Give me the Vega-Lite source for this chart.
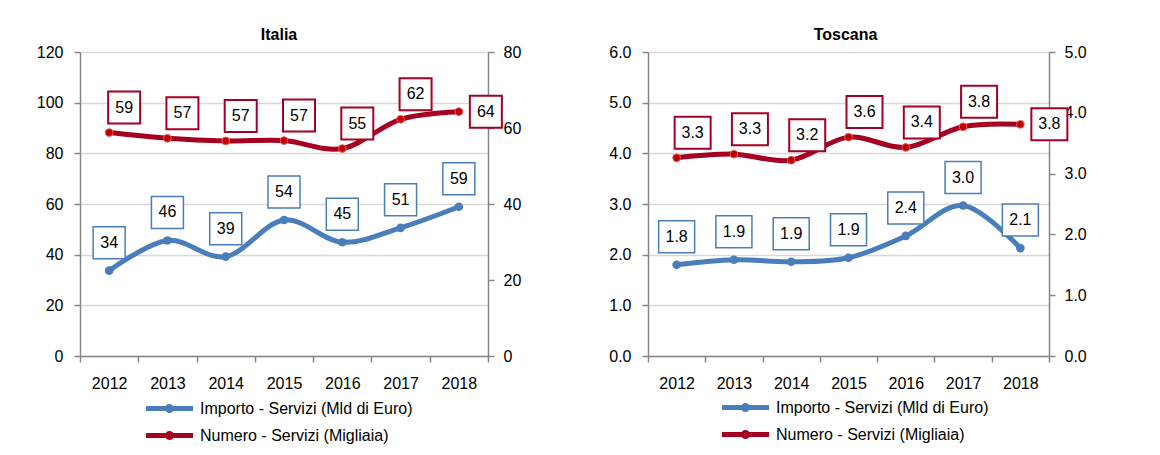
{
  "$schema": "https://vega.github.io/schema/vega-lite/v6.json",
  "padding": {"left": 36, "top": 27, "right": 5, "bottom": 5},
  "spacing": 87,
  "datasets": {
    "italia": [
      {"anno": "2012", "serie": "Importo - Servizi (Mld di Euro)", "valore": 33.7},
      {"anno": "2013", "serie": "Importo - Servizi (Mld di Euro)", "valore": 45.6},
      {"anno": "2014", "serie": "Importo - Servizi (Mld di Euro)", "valore": 39.2},
      {"anno": "2015", "serie": "Importo - Servizi (Mld di Euro)", "valore": 53.7},
      {"anno": "2016", "serie": "Importo - Servizi (Mld di Euro)", "valore": 44.9},
      {"anno": "2017", "serie": "Importo - Servizi (Mld di Euro)", "valore": 50.6},
      {"anno": "2018", "serie": "Importo - Servizi (Mld di Euro)", "valore": 58.9},
      {"anno": "2012", "serie": "Numero - Servizi (Migliaia)", "valore": 58.8},
      {"anno": "2013", "serie": "Numero - Servizi (Migliaia)", "valore": 57.3},
      {"anno": "2014", "serie": "Numero - Servizi (Migliaia)", "valore": 56.6},
      {"anno": "2015", "serie": "Numero - Servizi (Migliaia)", "valore": 56.7},
      {"anno": "2016", "serie": "Numero - Servizi (Migliaia)", "valore": 54.6},
      {"anno": "2017", "serie": "Numero - Servizi (Migliaia)", "valore": 62.3},
      {"anno": "2018", "serie": "Numero - Servizi (Migliaia)", "valore": 64.3}
    ],
    "toscana": [
      {"anno": "2012", "serie": "Importo - Servizi (Mld di Euro)", "valore": 1.80},
      {"anno": "2013", "serie": "Importo - Servizi (Mld di Euro)", "valore": 1.90},
      {"anno": "2014", "serie": "Importo - Servizi (Mld di Euro)", "valore": 1.86},
      {"anno": "2015", "serie": "Importo - Servizi (Mld di Euro)", "valore": 1.94},
      {"anno": "2016", "serie": "Importo - Servizi (Mld di Euro)", "valore": 2.37},
      {"anno": "2017", "serie": "Importo - Servizi (Mld di Euro)", "valore": 2.97},
      {"anno": "2018", "serie": "Importo - Servizi (Mld di Euro)", "valore": 2.13},
      {"anno": "2012", "serie": "Numero - Servizi (Migliaia)", "valore": 3.26},
      {"anno": "2013", "serie": "Numero - Servizi (Migliaia)", "valore": 3.32},
      {"anno": "2014", "serie": "Numero - Servizi (Migliaia)", "valore": 3.22},
      {"anno": "2015", "serie": "Numero - Servizi (Migliaia)", "valore": 3.60},
      {"anno": "2016", "serie": "Numero - Servizi (Migliaia)", "valore": 3.43},
      {"anno": "2017", "serie": "Numero - Servizi (Migliaia)", "valore": 3.77},
      {"anno": "2018", "serie": "Numero - Servizi (Migliaia)", "valore": 3.81}
    ]
  },
  "hconcat": [
    {
      "width": 408,
      "height": 304,
      "title": {"text": "Italia", "dx": -5},
      "data": {"name": "italia"},
      "encoding": {
        "x": {"field": "anno", "type": "ordinal", "scale": {"paddingInner": 0, "paddingOuter": 0},
              "axis": {"title": null, "labelAngle": 0, "tickBand": "extent", "labelPadding": 13, "grid": false}}
      },
      "layer": [
        {
          "transform": [{"filter": {"field": "serie", "equal": "Importo - Servizi (Mld di Euro)"}}],
          "encoding": {
            "y": {"field": "valore", "type": "quantitative", "scale": {"domain": [0, 120], "nice": false, "zero": true},
                  "axis": {"title": null, "orient": "left", "values": [0, 20, 40, 60, 80, 100, 120], "grid": true, "labelPadding": 11}}
          },
          "layer": [
            {"mark": {"type": "line", "interpolate": "cardinal", "strokeWidth": 5},
             "encoding": {"color": {"field": "serie", "type": "nominal",
               "scale": {"domain": ["Importo - Servizi (Mld di Euro)", "Numero - Servizi (Migliaia)"], "range": ["#4A7EBB", "#A50021"]},
               "legend": {"title": null, "orient": "none", "legendX": 77, "legendY": 344, "direction": "vertical"}}}},
            {"mark": {"type": "point", "filled": true, "size": 75, "color": "#4A7EBB", "opacity": 1}},
            {"mark": {"type": "point", "shape": "M-1,-2.75H1V-0.75H-1Z", "size": 1024, "filled": true, "fill": "white", "stroke": "#4A7EBB", "strokeWidth": 1.5, "opacity": 1}},
            {"mark": {"type": "text", "dy": -28, "fontSize": 16, "color": "black", "baseline": "middle"},
             "encoding": {"text": {"field": "valore", "type": "quantitative", "format": ".0f"}}}
          ]
        },
        {
          "transform": [{"filter": {"field": "serie", "equal": "Numero - Servizi (Migliaia)"}}],
          "encoding": {
            "y": {"field": "valore", "type": "quantitative", "scale": {"domain": [0, 80], "nice": false, "zero": true},
                  "axis": {"title": null, "orient": "right", "values": [0, 20, 40, 60, 80], "grid": false, "labelPadding": 9}}
          },
          "layer": [
            {"mark": {"type": "line", "interpolate": "cardinal", "strokeWidth": 5},
             "encoding": {"color": {"field": "serie", "type": "nominal",
               "scale": {"domain": ["Importo - Servizi (Mld di Euro)", "Numero - Servizi (Migliaia)"], "range": ["#4A7EBB", "#A50021"]},
               "legend": {"title": null, "orient": "none", "legendX": 77, "legendY": 344, "direction": "vertical"}}}},
            {"mark": {"type": "point", "filled": true, "size": 60, "fill": "#C00000", "stroke": "#E06060", "strokeWidth": 1, "opacity": 1}},
            {"transform": [{"filter": "datum.anno != '2018'"}],
             "layer": [
               {"mark": {"type": "point", "shape": "M-0.0625,-2.5625H1.9375V-0.5625H-0.0625Z", "size": 1024, "filled": true, "fill": "white", "stroke": "#A50021", "strokeWidth": 2, "opacity": 1}},
               {"mark": {"type": "text", "dx": 15, "dy": -25, "fontSize": 16, "color": "black", "baseline": "middle"},
                "encoding": {"text": {"field": "valore", "type": "quantitative", "format": ".0f"}}}
             ]},
            {"transform": [{"filter": "datum.anno == '2018'"}],
             "layer": [
               {"mark": {"type": "point", "shape": "M0.6875,-1H2.6875V1H0.6875Z", "size": 1024, "filled": true, "fill": "white", "stroke": "#A50021", "strokeWidth": 2, "opacity": 1}},
               {"mark": {"type": "text", "dx": 27, "dy": 0, "fontSize": 16, "color": "black", "baseline": "middle"},
                "encoding": {"text": {"field": "valore", "type": "quantitative", "format": ".0f"}}}
             ]}
          ]
        }
      ],
      "resolve": {"scale": {"y": "independent"}}
    },
    {
      "width": 401,
      "height": 304,
      "title": {"text": "Toscana", "dx": -3},
      "data": {"name": "toscana"},
      "encoding": {
        "x": {"field": "anno", "type": "ordinal", "scale": {"paddingInner": 0, "paddingOuter": 0},
              "axis": {"title": null, "labelAngle": 0, "tickBand": "extent", "labelPadding": 13, "grid": false}}
      },
      "layer": [
        {
          "transform": [{"filter": {"field": "serie", "equal": "Importo - Servizi (Mld di Euro)"}}],
          "encoding": {
            "y": {"field": "valore", "type": "quantitative", "scale": {"domain": [0, 6], "nice": false, "zero": true},
                  "axis": {"title": null, "orient": "left", "values": [0, 1, 2, 3, 4, 5, 6], "format": ".1f", "grid": true, "labelPadding": 11}}
          },
          "layer": [
            {"mark": {"type": "line", "interpolate": "cardinal", "strokeWidth": 5},
             "encoding": {"color": {"field": "serie", "type": "nominal",
               "scale": {"domain": ["Importo - Servizi (Mld di Euro)", "Numero - Servizi (Migliaia)"], "range": ["#4A7EBB", "#A50021"]},
               "legend": {"title": null, "orient": "none", "legendX": 85, "legendY": 343, "direction": "vertical"}}}},
            {"mark": {"type": "point", "filled": true, "size": 75, "color": "#4A7EBB", "opacity": 1}},
            {"mark": {"type": "point", "shape": "M-1.125,-2.75H1.125V-0.75H-1.125Z", "size": 1024, "filled": true, "fill": "white", "stroke": "#4A7EBB", "strokeWidth": 1.5, "opacity": 1}},
            {"mark": {"type": "text", "dy": -28, "fontSize": 16, "color": "black", "baseline": "middle"},
             "encoding": {"text": {"field": "valore", "type": "quantitative", "format": ".1f"}}}
          ]
        },
        {
          "transform": [{"filter": {"field": "serie", "equal": "Numero - Servizi (Migliaia)"}}],
          "encoding": {
            "y": {"field": "valore", "type": "quantitative", "scale": {"domain": [0, 5], "nice": false, "zero": true},
                  "axis": {"title": null, "orient": "right", "values": [0, 1, 2, 3, 4, 5], "format": ".1f", "grid": false, "labelPadding": 9}}
          },
          "layer": [
            {"mark": {"type": "line", "interpolate": "cardinal", "strokeWidth": 5},
             "encoding": {"color": {"field": "serie", "type": "nominal",
               "scale": {"domain": ["Importo - Servizi (Mld di Euro)", "Numero - Servizi (Migliaia)"], "range": ["#4A7EBB", "#A50021"]},
               "legend": {"title": null, "orient": "none", "legendX": 85, "legendY": 343, "direction": "vertical"}}}},
            {"mark": {"type": "point", "filled": true, "size": 60, "fill": "#C00000", "stroke": "#E06060", "strokeWidth": 1, "opacity": 1}},
            {"transform": [{"filter": "datum.anno != '2018'"}],
             "layer": [
               {"mark": {"type": "point", "shape": "M-0.125,-2.5625H2.125V-0.5625H-0.125Z", "size": 1024, "filled": true, "fill": "white", "stroke": "#A50021", "strokeWidth": 2, "opacity": 1}},
               {"mark": {"type": "text", "dx": 16, "dy": -25, "fontSize": 16, "color": "black", "baseline": "middle"},
                "encoding": {"text": {"field": "valore", "type": "quantitative", "format": ".1f"}}}
             ]},
            {"transform": [{"filter": "datum.anno == '2018'"}],
             "layer": [
               {"mark": {"type": "point", "shape": "M0.6875,-1H2.9375V1H0.6875Z", "size": 1024, "filled": true, "fill": "white", "stroke": "#A50021", "strokeWidth": 2, "opacity": 1}},
               {"mark": {"type": "text", "dx": 29, "dy": 0, "fontSize": 16, "color": "black", "baseline": "middle"},
                "encoding": {"text": {"field": "valore", "type": "quantitative", "format": ".1f"}}}
             ]}
          ]
        }
      ],
      "resolve": {"scale": {"y": "independent"}}
    }
  ],
  "resolve": {"scale": {"color": "independent", "x": "independent", "y": "independent"}, "legend": {"color": "independent"}},
  "config": {
    "font": "Liberation Sans",
    "view": {"stroke": null},
    "axis": {
      "labelFontSize": 16, "labelColor": "black", "labelFont": "Liberation Sans",
      "domainColor": "#868686", "domainWidth": 1.5,
      "tickColor": "#868686", "tickWidth": 1.5, "tickSize": 6,
      "gridColor": "#D9D9D9", "gridWidth": 1.5
    },
    "legend": {
      "labelFontSize": 16, "labelColor": "black", "labelFont": "Liberation Sans", "labelLimit": 0,
      "symbolType": "M-2.35,0H2.35M0.2,0A0.2,0.2 0 1,1 -0.2,0A0.2,0.2 0 1,1 0.2,0",
      "symbolSize": 400, "symbolStrokeWidth": 5, "labelOffset": 18, "rowPadding": 2, "padding": 0
    },
    "title": {"fontSize": 16, "fontWeight": "bold", "color": "black", "font": "Liberation Sans", "baseline": "alphabetic", "offset": 1, "anchor": "middle"},
    "text": {"font": "Liberation Sans"}
  }
}
